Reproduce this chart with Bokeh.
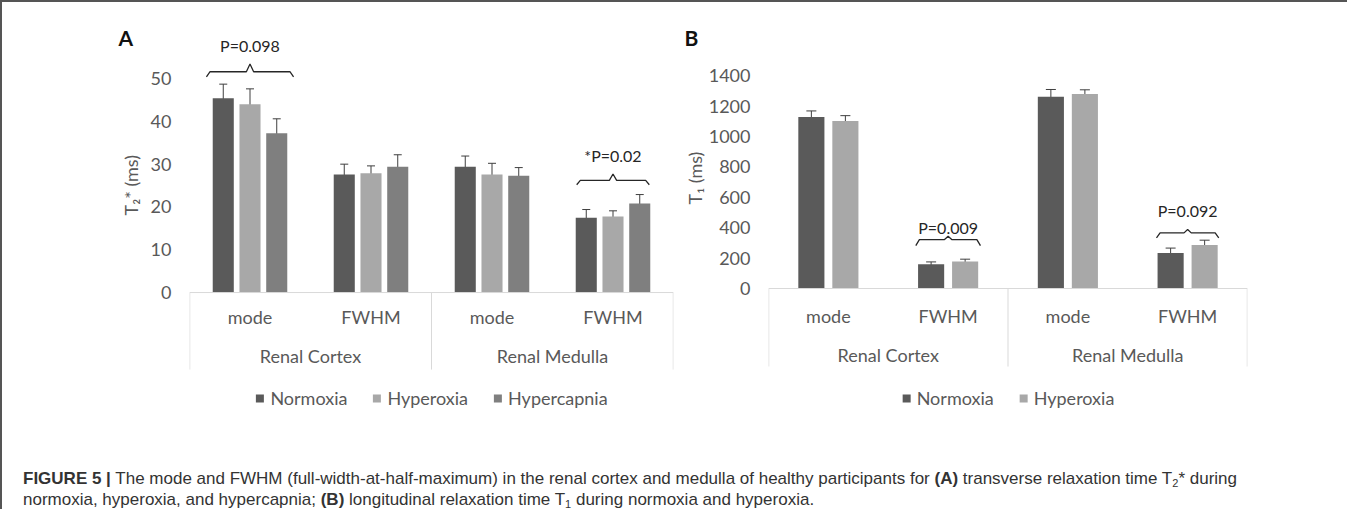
from bokeh.plotting import figure
from bokeh.models import (FactorRange, Range1d, FixedTicker, Whisker, TeeHead,
                          ColumnDataSource, Legend, LegendItem, Span, Title, Div, Spacer)
from bokeh.transform import dodge
from bokeh.layouts import row, column
from bokeh.embed import file_html
from bokeh.resources import INLINE
from bokeh.core.properties import value

# ---------------- data ----------------
regions = ["Renal Cortex", "Renal Medulla"]
measures = ["mode", "FWHM"]
factors = [(r, m) for r in regions for m in measures]

# Panel A : T2* (ms)
t2_series = ["Normoxia", "Hyperoxia", "Hypercapnia"]
t2_normoxia = [45.4, 27.6, 29.4, 17.5]
t2_normoxia_err = [3.3, 2.4, 2.5, 1.9]
t2_hyperoxia = [44.0, 27.9, 27.6, 17.8]
t2_hyperoxia_err = [3.6, 1.7, 2.6, 1.3]
t2_hypercapnia = [37.2, 29.4, 27.3, 20.8]
t2_hypercapnia_err = [3.4, 2.8, 1.9, 2.1]
t2_ticks = [0, 10, 20, 30, 40, 50]
t2_pvalues = [("Renal Cortex", "mode", "P=0.098"), ("Renal Medulla", "FWHM", "*P=0.02")]

# Panel B : T1 (ms)
t1_series = ["Normoxia", "Hyperoxia"]
t1_normoxia = [1128, 160, 1262, 234]
t1_normoxia_err = [40, 15, 47, 32]
t1_hyperoxia = [1102, 177, 1280, 286]
t1_hyperoxia_err = [35, 16, 27, 32]
t1_ticks = [0, 200, 400, 600, 800, 1000, 1200, 1400]
t1_pvalues = [("Renal Cortex", "FWHM", "P=0.009"), ("Renal Medulla", "FWHM", "P=0.092")]

# ---------------- styles ----------------
C_NORM = "#5a5a5a"
C_HYPO = "#a8a8a8"
C_HYPC = "#7f7f7f"
GRAY_TXT = "#595959"
ERR = "#3f3f3f"
BOX = "#d9d9d9"
FONT = "Lato"
FRAME_H = 383


def make_panel(letter, letter_off, ylabel, ylabel_off, ylabel_standoff, ticks, yr,
               box_bottom, series, vals, errs, colors, offsets, bar_w, pvals,
               brackets, cat_y, grp_y, frame_w, border_left, border_right, cap):
    p = figure(frame_width=frame_w, frame_height=FRAME_H,
               x_range=FactorRange(*factors, factor_padding=0, group_padding=0,
                                   range_padding=0),
               y_range=Range1d(*yr), x_axis_location=None,
               min_border_left=border_left, min_border_right=border_right,
               min_border_top=35, min_border_bottom=0,
               output_backend="svg", toolbar_location=None)
    p.outline_line_color = None
    p.xgrid.visible = False
    p.ygrid.visible = False
    ax = p.yaxis[0]
    ax.ticker = FixedTicker(ticks=ticks)
    ax.axis_line_color = None
    ax.major_tick_in = 0
    ax.major_tick_out = 0
    ax.minor_tick_line_color = None
    ax.major_label_standoff = 18
    ax.major_label_text_font = FONT
    ax.major_label_text_font_size = "18px"
    ax.major_label_text_color = GRAY_TXT

    # panel letter (title) placed left of the frame
    p.title.text = letter
    p.title.align = "left"
    p.title.offset = letter_off
    p.title.standoff = -25
    p.title.text_font = FONT
    p.title.text_font_size = "21px"
    p.title.text_font_style = "bold"
    p.title.text_color = "#111111"

    # y-axis title
    p.add_layout(Title(text=ylabel, align="left", offset=ylabel_off,
                       standoff=ylabel_standoff, text_font=FONT,
                       text_font_size="18px", text_font_style="normal",
                       text_color=GRAY_TXT), "left")

    items = []
    for name, v, e, c, off in zip(series, vals, errs, colors, offsets):
        src = ColumnDataSource(dict(x=factors, top=v,
                                    upper=[a + b for a, b in zip(v, e)],
                                    lower=[a - b for a, b in zip(v, e)]))
        r = p.vbar(x=dodge("x", off, range=p.x_range), top="top", width=bar_w,
                   source=src, fill_color=c, line_color=None)
        w = Whisker(source=src, base=dodge("x", off, range=p.x_range),
                    upper="upper", lower="lower", line_color=ERR, line_width=1,
                    upper_head=TeeHead(size=cap, line_color=ERR, line_width=1),
                    lower_head=TeeHead(size=cap, line_color=ERR, line_width=1))
        p.add_layout(w)
        items.append(LegendItem(label=name, renderers=[r]))

    # category axis box (Excel style)
    p.add_layout(Span(location=0, dimension="width", line_color=BOX, line_width=1))
    sep = ColumnDataSource(dict(
        x=[(regions[0], measures[0], -0.498), (regions[0], measures[1], 0.5),
           (regions[1], measures[1], 0.498)]))
    p.segment(x0="x", x1="x", y0=0, y1=box_bottom, source=sep, line_color=BOX,
              line_width=1)
    p.text(x=factors, y=[cat_y] * len(factors), text=[f[1] for f in factors],
           text_font=value(FONT), text_font_size="18px", text_color=GRAY_TXT,
           text_align="center", text_baseline="middle")
    p.text(x=regions, y=[grp_y] * len(regions), text=regions,
           text_font=value(FONT), text_font_size="18px", text_color=GRAY_TXT,
           text_align="center", text_baseline="middle")

    # significance brackets
    for (g, m, txt), (ty, ly, hook, tip, hw) in zip(pvals, brackets):
        d = 0.03
        xs = [(g, m, -hw), (g, m, -hw + d), (g, m, -d), (g, m, 0.0),
              (g, m, d), (g, m, hw - d), (g, m, hw)]
        ys = [ly - hook, ly, ly, ly + tip, ly, ly, ly - hook]
        p.line(x=xs, y=ys, line_color="#262626", line_width=1.3)
        p.text(x=[(g, m)], y=[ty], text=[txt], text_font=value(FONT),
               text_font_size="16px", text_color="#262626",
               text_align="center", text_baseline="middle")

    legend = Legend(items=items, orientation="horizontal", location="bottom_center",
                    border_line_color=None, background_fill_alpha=0,
                    padding=0, margin=11, spacing=24, label_standoff=6,
                    glyph_width=10, glyph_height=10, label_height=18,
                    label_text_font=FONT, label_text_font_size="18px",
                    label_text_color=GRAY_TXT)
    p.add_layout(legend, "center")
    return p


# A : 0 at page y 292, 4.28 px per ms ; frame page y 37..420
pA = make_panel("A", -71, "T\u2082* (ms)", 205, 12, t2_ticks,
                (-29.9, 59.6), -18.0, t2_series,
                [t2_normoxia, t2_hyperoxia, t2_hypercapnia],
                [t2_normoxia_err, t2_hyperoxia_err, t2_hypercapnia_err],
                [C_NORM, C_HYPO, C_HYPC], [-0.221, 0.0, 0.221], 0.174,
                t2_pvalues,
                [(57.7, 51.6, 1.2, 1.8, 0.36), (32.0, 26.2, 1.0, 1.5, 0.30)],
                -5.6, -14.9, 484, 187, 7, 8)

# B : 0 at page y 288, 0.152 px per ms
pB = make_panel("B", -84, "T\u2081 (ms)", 216, 0, t1_ticks,
                (-868, 1651), -513, t1_series,
                [t1_normoxia, t1_hyperoxia],
                [t1_normoxia_err, t1_hyperoxia_err],
                [C_NORM, C_HYPO], [-0.142, 0.142], 0.218,
                t1_pvalues,
                [(402, 322, 40, 22, 0.27), (515, 366, 33, 22, 0.26)],
                -178, -434, 479, 88, 100, 10)

caption = Div(text=(
    "<b>FIGURE 5 |</b> The mode and FWHM (full-width-at-half-maximum) in the renal "
    "cortex and medulla of healthy participants for <b>(A)</b> transverse relaxation "
    "time T<sub style='font-size:11px;line-height:0;vertical-align:-3px'>2</sub>* "
    "during<br>normoxia, hyperoxia, and hypercapnia; <b>(B)</b> longitudinal "
    "relaxation time T<sub style='font-size:11px;line-height:0;vertical-align:-3px'>1</sub> "
    "during normoxia and hyperoxia."),
    width=1320, height=44,
    styles={"font-family": "'Liberation Sans', Arial, sans-serif", "font-size": "17px",
            "color": "#333333", "line-height": "21px", "padding-left": "16px"})

layout = column(row(pA, pB), Spacer(height=43), caption,
                styles={"border-top": "2px solid #555555",
                        "border-left": "2px solid #555555"})

open("out.html", "w").write(file_html(layout, INLINE))
